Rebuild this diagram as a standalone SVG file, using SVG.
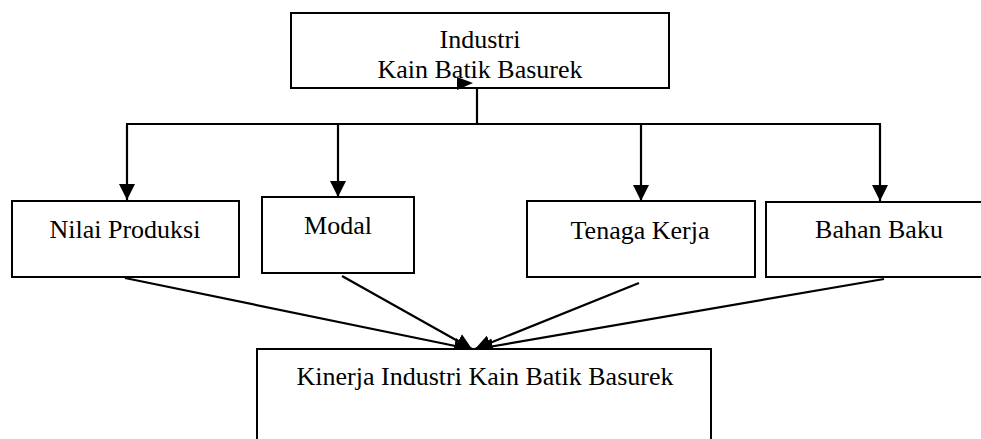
<svg xmlns="http://www.w3.org/2000/svg" width="981" height="439" viewBox="0 0 981 439">
<defs>
<style>
.box{fill:#fff;stroke:#000;stroke-width:2}
.lbl{font-family:"Liberation Serif","Times New Roman",serif;font-size:26px;fill:#000;text-anchor:middle}
.ln{fill:none;stroke:#000;stroke-width:2.2}
</style>
<marker id="ah" viewBox="0 0 10 10" refX="10" refY="5" markerWidth="16" markerHeight="16" markerUnits="userSpaceOnUse" orient="auto">
<path d="M0,0 L10,5 L0,10 z" fill="#000"/>
</marker>
</defs>
<rect width="981" height="439" fill="#fff"/>
<g id="connectors">
<line class="ln" x1="477" y1="88" x2="477" y2="124"/>
<line class="ln" x1="126" y1="124" x2="881" y2="124"/>
<line class="ln" x1="127" y1="124" x2="127" y2="200" marker-end="url(#ah)"/>
<line class="ln" x1="338" y1="124" x2="338" y2="197" marker-end="url(#ah)"/>
<line class="ln" x1="641" y1="124" x2="641" y2="201" marker-end="url(#ah)"/>
<line class="ln" x1="880" y1="124" x2="880" y2="201" marker-end="url(#ah)"/>
<line class="ln" x1="125" y1="278" x2="470" y2="349" marker-end="url(#ah)"/>
<line class="ln" x1="342" y1="276" x2="472" y2="349" marker-end="url(#ah)"/>
<line class="ln" x1="639" y1="283" x2="475" y2="349" marker-end="url(#ah)"/>
<line class="ln" x1="884" y1="279" x2="477" y2="349" marker-end="url(#ah)"/>
</g>
<g id="industri">
<rect class="box" x="291" y="13" width="378" height="75"/>
<text class="lbl" x="480" y="48">Industri</text>
<text class="lbl" x="480" y="78">Kain Batik Basurek</text>
<polygon points="457,77 473,83 457,90" fill="#000"/>
</g>
<g id="nilai">
<rect class="box" x="12" y="201" width="227" height="76"/>
<text class="lbl" x="125" y="238">Nilai Produksi</text>
</g>
<g id="modal">
<rect class="box" x="262" y="197" width="152" height="76"/>
<text class="lbl" x="338" y="234">Modal</text>
</g>
<g id="tenaga">
<rect class="box" x="527" y="201" width="228" height="76"/>
<text class="lbl" x="640" y="239">Tenaga Kerja</text>
</g>
<g id="bahan">
<rect class="box" x="766" y="202" width="230" height="75"/>
<text class="lbl" x="879" y="238">Bahan Baku</text>
</g>
<g id="kinerja">
<rect class="box" x="257" y="349" width="454" height="100"/>
<text class="lbl" x="485" y="385">Kinerja Industri Kain Batik Basurek</text>
</g>
</svg>
